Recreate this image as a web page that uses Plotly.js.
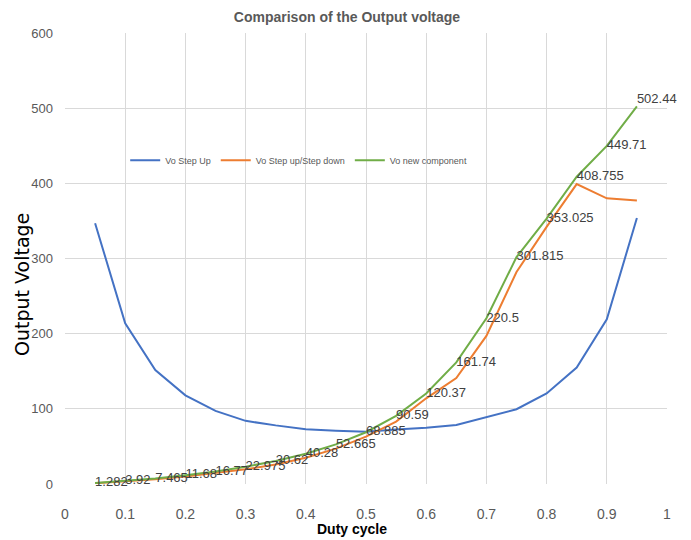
<!DOCTYPE html>
<html>
<head>
<meta charset="utf-8">
<script src="https://cdn.plot.ly/plotly-3.0.1.min.js"></script>
<style>
html,body{margin:0;padding:0;background:#fff;}
#chart{width:691px;height:540px;}
</style>
</head>
<body>
<div id="chart"></div>
<script>
const dutyCycle = [0.05,0.1,0.15,0.2,0.25,0.3,0.35,0.4,0.45,0.5,0.55,0.6,0.65,0.7,0.75,0.8,0.85,0.9,0.95];
const voStepUp = [347,213.7,151.7,118,97.3,84,78,73,71,69.5,72.5,75,78.5,88.5,99.5,120.5,155,219,354];
const voStepUpDown = [1.0,3.2,6.2,9.8,14.2,19.5,26,35,47,63,83,114,141,197,282,342,399,380,377];
const voNewComponent = [1.282,3.92,7.465,11.68,16.77,22.975,30.62,40.28,52.665,68.885,90.59,120.37,161.74,220.5,301.815,353.025,408.755,449.71,502.44];
const labelsNew = voNewComponent.map(v => String(v));
const labelPos = voNewComponent.map((v,i) => i === voNewComponent.length-1 ? 'top right' : 'middle right');

const narrow = '"Liberation Sans Narrow", "Arial Narrow", "Liberation Sans", sans-serif';

const traces = [
  {x: dutyCycle, y: voStepUp, mode: 'lines', name: 'Vo Step Up',
   line: {color: '#4472C4', width: 2}},
  {x: dutyCycle, y: voStepUpDown, mode: 'lines', name: 'Vo Step up/Step down',
   line: {color: '#ED7D31', width: 2}},
  {x: dutyCycle, y: voNewComponent, mode: 'lines+text', name: 'Vo new component',
   line: {color: '#70AD47', width: 2},
   text: labelsNew, textposition: labelPos,
   textfont: {family: narrow, size: 13, color: '#404040'}, cliponaxis: false}
];

const layout = {
  width: 691, height: 540,
  margin: {l: 65, r: 24, t: 33, b: 56},
  paper_bgcolor: '#fff', plot_bgcolor: '#fff',
  title: {text: '<b>Comparison of the Output voltage</b>', x: 347/691, xanchor: 'center', y: 1 - 17/540, yanchor: 'middle',
          font: {family: narrow, size: 14, color: '#595959'}},
  xaxis: {range: [0, 1], dtick: 0.1, tick0: 0, showgrid: true, gridcolor: '#d9d9d9', gridwidth: 1,
          zeroline: false, showline: false, ticks: '', ticklabelstandoff: 20,
          tickfont: {family: narrow, size: 14, color: '#595959'}},
  yaxis: {range: [0, 600], dtick: 100, showgrid: true, gridcolor: '#d9d9d9', gridwidth: 1,
          zeroline: false, showline: false, ticks: '', ticklabelstandoff: 11,
          tickfont: {family: narrow, size: 13, color: '#595959'}},
  showlegend: true,
  legend: {orientation: 'h', x: 0.1, xanchor: 'left', y: 0.718, yanchor: 'middle',
           bgcolor: 'rgba(0,0,0,0)', font: {family: narrow, size: 9, color: '#595959'},
           itemwidth: 30, tracegroupgap: 0},
  annotations: [
    {text: 'Output Voltage', xref: 'paper', yref: 'paper', x: -43/602, y: (484-285)/451,
     xanchor: 'center', yanchor: 'middle', textangle: -90, showarrow: false,
     font: {family: '"DejaVu Sans", Verdana, sans-serif', size: 19, color: '#000'}},
    {text: '<b>Duty cycle</b>', xref: 'paper', yref: 'paper', x: (352-65)/602, y: (484-529)/451,
     xanchor: 'center', yanchor: 'middle', showarrow: false,
     font: {family: narrow, size: 14, color: '#000'}}
  ]
};

Plotly.newPlot('chart', traces, layout, {displayModeBar: false, staticPlot: true});
</script>
</body>
</html>
